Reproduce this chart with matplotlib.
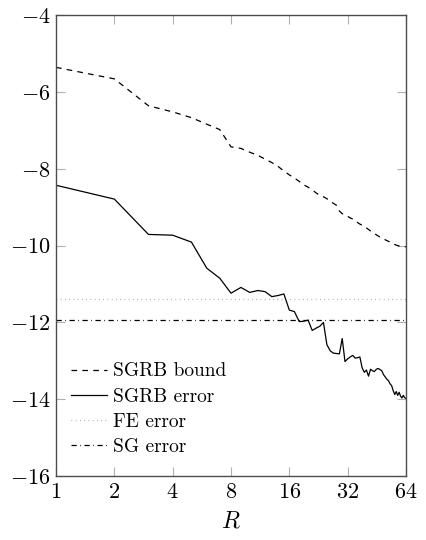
import matplotlib

matplotlib.use("Agg")

import matplotlib.pyplot as plt
from matplotlib.ticker import FixedLocator, FuncFormatter, NullLocator

R = list(range(1, 65))

sgrb_bound = [
    -5.36, -5.66, -6.36, -6.52, -6.67, -6.84, -6.98, -7.43, -7.47, -7.57,
    -7.65, -7.75, -7.84, -7.94, -8.06, -8.16, -8.24, -8.33, -8.42, -8.48,
    -8.55, -8.63, -8.69, -8.73, -8.78, -8.84, -8.90, -8.95, -9.10, -9.17,
    -9.20, -9.24, -9.28, -9.31, -9.35, -9.40, -9.44, -9.47, -9.51, -9.54,
    -9.58, -9.62, -9.65, -9.68, -9.72, -9.75, -9.78, -9.80, -9.82, -9.85,
    -9.87, -9.89, -9.91, -9.93, -9.95, -9.97, -9.99, -10.00, -10.01, -10.02,
    -10.03, -10.03, -10.03, -10.03,
]

sgrb_error = [
    -8.43, -8.79, -9.71, -9.73, -9.91, -10.59, -10.85, -11.24, -11.09, -11.22,
    -11.17, -11.20, -11.33, -11.30, -11.26, -11.68, -11.72, -11.98, -11.97, -11.94,
    -12.21, -12.15, -12.10, -12.00, -12.58, -12.74, -12.80, -12.81, -12.82, -12.42,
    -13.02, -12.95, -12.90, -12.86, -12.93, -12.92, -12.90, -13.18, -13.30, -13.24,
    -13.40, -13.22, -13.26, -13.28, -13.22, -13.20, -13.23, -13.26, -13.36, -13.42,
    -13.48, -13.52, -13.60, -13.65, -13.78, -13.88, -13.80, -13.90, -13.82, -13.92,
    -13.97, -13.90, -13.96, -13.98,
]

fe_error = -11.40
sg_error = -11.95

x_ticks = [1, 2, 4, 8, 16, 32, 64]
y_ticks = [-16, -14, -12, -10, -8, -6, -4]

plt.rcParams["mathtext.fontset"] = "cm"
plt.rcParams["font.family"] = ["cmr10", "DejaVu Serif"]
plt.rcParams["axes.unicode_minus"] = False

fig = plt.figure(figsize=(4.26, 5.40), dpi=100)
ax = fig.add_axes([0.1315, 0.1185, 0.8215, 0.8535])

lw = 0.9
ax.plot(R, sgrb_bound, color="black", lw=lw, dashes=(4.5, 4.2), label="SGRB bound")
ax.plot(R, sgrb_error, color="black", lw=lw, label="SGRB error")
ax.axhline(fe_error, color="#999999", lw=lw, dashes=(0.6, 2.8), label="FE error")
ax.axhline(sg_error, color="black", lw=lw, dashes=(4.2, 2.8, 0.6, 2.8), label="SG error")

ax.set_xscale("log", base=2)
ax.set_xlim(1, 64)
ax.set_ylim(-16, -4)
ax.xaxis.set_major_locator(FixedLocator(x_ticks))
ax.xaxis.set_minor_locator(NullLocator())
ax.yaxis.set_major_locator(FixedLocator(y_ticks))
ax.xaxis.set_major_formatter(FuncFormatter(lambda v, p: f"${int(round(v))}$"))
ax.yaxis.set_major_formatter(FuncFormatter(lambda v, p: f"${int(round(v))}$"))

ax.tick_params(which="major", direction="in", length=6.5, width=0.8, color="#b0b0b0",
               top=True, right=True, labelsize=16, pad=4)
ax.tick_params(axis="x", pad=5)
for spine in ax.spines.values():
    spine.set_color("#4d4d4d")
    spine.set_linewidth(1.0)

ax.set_xlabel("$R$", fontsize=17, labelpad=6)

ax.legend(loc="lower left", bbox_to_anchor=(0.02, 0.026), frameon=False, fontsize=14,
          handlelength=1.85, handletextpad=0.3, labelspacing=0.38, borderaxespad=0)

fig.savefig("out.png", dpi=100)
